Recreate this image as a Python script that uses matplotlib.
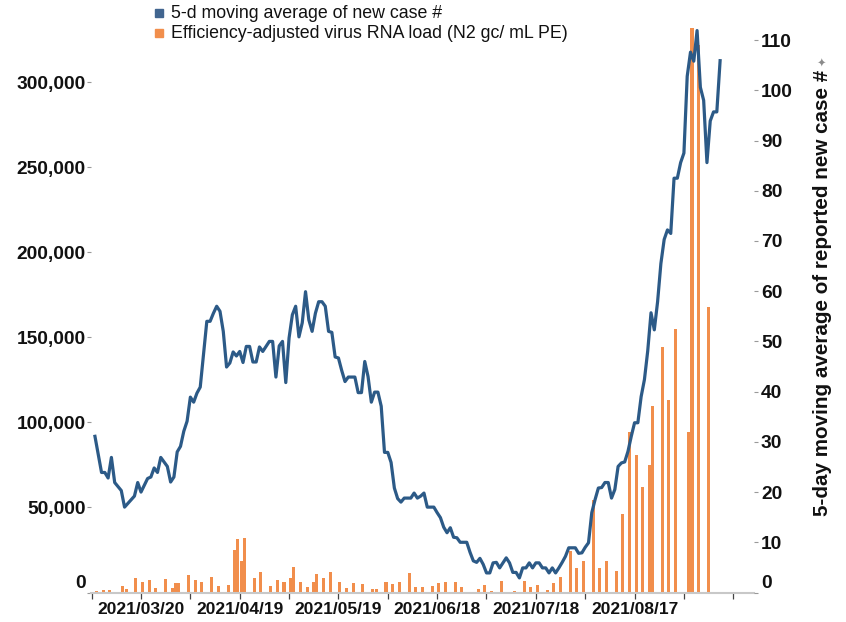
import matplotlib
matplotlib.use("Agg")
import matplotlib.pyplot as plt
import matplotlib.transforms as mtransforms
from matplotlib.patches import Rectangle
from matplotlib.ticker import FixedLocator, FuncFormatter
import pandas as pd

plt.rcParams['font.family'] = ['Liberation Sans', 'DejaVu Sans']

# ---------------- data ----------------
ref_date = '2021-03-20'

# 5-day moving average of reported new cases (day offsets from ref_date)
case_days = [-14, -12, -11, -10, -9, -8, -6, -5, -2, -1, 0, 2, 3, 4, 5, 6, 8, 9, 10, 11,
             12, 13, 14, 15, 16, 17, 18, 20, 21, 22, 23, 24, 25] + list(range(26, 177))
case_avg = [31.1, 23.9, 23.9, 22.8, 26.9, 21.9, 20.3, 17.0, 19.2, 21.9, 20.0, 22.7, 23.0, 24.8,
            23.9, 26.9, 25.1, 22.0, 23.0, 28.0, 29.1, 32.1, 34.1, 38.9, 37.9, 39.7, 40.9, 54.0,
            54.0, 55.6, 57.0, 56.0, 52.0,
            44.9, 45.7, 47.9, 47.1, 48.0, 45.8, 49.0, 49.0, 45.9, 45.9, 48.9, 48.0, 49.0, 50.0,
            50.0, 42.9, 49.1, 50.0, 41.8, 50.7, 55.3, 57.0, 50.9, 53.7, 59.9, 54.3, 52.0, 55.6,
            57.9, 57.9, 57.0, 52.0, 51.8, 46.9, 46.7, 44.2, 42.0, 42.9, 42.9, 42.9, 39.8, 39.8,
            46.0, 43.0, 37.9, 39.9, 39.9, 37.1, 27.9, 27.9, 25.9, 20.8, 18.7, 18.0, 18.8, 18.8,
            18.8, 19.8, 18.8, 19.2, 19.8, 17.0, 17.0, 17.0, 15.9, 14.9, 13.0, 11.9, 12.9, 11.0,
            10.9, 10.0, 10.0, 10.0, 8.0, 6.3, 6.0, 6.8, 5.6, 3.9, 3.9, 5.9, 6.0, 4.9, 5.9, 6.9,
            5.9, 4.0, 4.0, 2.9, 4.9, 4.9, 5.9, 4.9, 5.9, 5.9, 4.9, 4.9, 3.9, 4.9, 3.9, 4.9, 6.0,
            7.2, 8.9, 8.9, 8.9, 7.8, 7.9, 9.0, 9.9, 15.9, 18.5, 20.8, 20.9, 21.9, 21.9, 18.8,
            20.5, 25.1, 25.8, 26.0, 28.1, 31.1, 33.8, 33.8, 39.0, 42.4, 48.1, 55.7, 52.3, 57.9,
            65.5, 70.3, 72.2, 71.5, 82.5, 82.5, 85.6, 87.5, 102.8, 107.6, 105.8, 111.9, 100.6,
            98.0, 85.6, 93.9, 95.7, 95.7, 105.9]

# Efficiency-adjusted virus RNA load (N2 gc/ mL PE)
rna_days = [-14, -12, -10, -6, -5, -2, 0, 2, 4, 7, 9, 10, 11, 14, 16, 18, 21, 23, 26, 28,
            29, 30, 31, 34, 36, 39, 41, 43, 45, 46, 48, 50, 52, 53, 55, 57, 60, 62, 64, 67,
            70, 71, 74, 76, 78, 81, 83, 85, 88, 90, 92, 95, 97, 99, 102, 104, 106, 109, 111, 113,
            116, 118, 120, 123, 125, 127, 130, 132, 134, 137, 139, 141, 144, 146, 148, 150, 152, 154, 155, 158,
            160, 162, 166, 167, 169, 172]
rna_load = [600, 1600, 1600, 4100, 1800, 8400, 5900, 7500, 2400, 8000,
            2400, 5300, 5300, 10200, 7100, 5900, 9200, 4100, 4700, 24700,
            31400, 18400, 31800, 8400, 11800, 4100, 7100, 6300, 8400, 14900,
            6300, 3100, 6300, 10600, 8400, 11800, 5900, 2800, 5500, 5100,
            2200, 1800, 5900, 5100, 6300, 11300, 3500, 3100, 3900, 5700,
            6300, 6300, 3100, 400, 1800, 4500, 600, 6500, 200, 1000,
            6900, 3500, 4500, 1600, 5300, 9000, 24200, 14600, 18400, 54100,
            14300, 18800, 12700, 45900, 94300, 80600, 61900, 74700, 109400, 144300,
            113300, 154700, 94300, 332000, 322000, 168000]

x_tick_labels = ['2021/03/20', '2021/04/19', '2021/05/19', '2021/06/18', '2021/07/18', '2021/08/17']
left_ticks = [0, 50000, 100000, 150000, 200000, 250000, 300000]
right_ticks = [0, 10, 20, 30, 40, 50, 60, 70, 80, 90, 100, 110]

legend_labels = ['5-d moving average of new case #',
                 'Efficiency-adjusted virus RNA load (N2 gc/ mL PE)']
right_label = '5-day moving average of reported new case #'

# ---------------- styling ----------------
LINE_C = '#2C5A87'
BAR_C = '#F18E4C'
LEG_BLUE = '#41658F'
TXT = '#111111'

W, H = 846, 622
fig = plt.figure(figsize=(W / 100, H / 100), dpi=100)
L, R, B, T = 91, 754, 592.5, 20
ax = fig.add_axes([L / W, 1 - B / H, (R - L) / W, (B - T) / H])
ax2 = ax.twinx()

ref = pd.Timestamp(ref_date)
bar_x = [ref + pd.Timedelta(days=d) for d in rna_days]
line_x = [ref + pd.Timedelta(days=d) for d in case_days]

ax.bar(bar_x, rna_load, width=0.92, align='edge', color=BAR_C, linewidth=0, zorder=2)
ax2.plot(line_x, case_avg, color=LINE_C, lw=2.3, solid_joinstyle='round', zorder=3)

ax.set_xlim(ref - pd.Timedelta(days=15.2), ref + pd.Timedelta(days=186.3))
ax.set_ylim(0, 336500)
ax2.set_ylim(0, 114.0)

# x ticks: labelled every 30 days, unlabelled ticks in between (every 15 days)
lab_dates = [pd.Timestamp(s.replace('/', '-')) for s in x_tick_labels]
ax.set_xticks(lab_dates)
ax.set_xticklabels(x_tick_labels)
minor = [lab_dates[0] + pd.Timedelta(days=15 * k) for k in range(-1, 13)]
minor = [m for m in minor if m not in lab_dates]
ax.set_xticks(minor, minor=True)
for which in ('major', 'minor'):
    ax.tick_params(axis='x', which=which, length=4, width=0.9, color='#444444',
                   direction='out', pad=3)
for lab in ax.get_xticklabels():
    lab.set_fontsize(12.5)
    lab.set_fontweight('bold')
    lab.set_color(TXT)

ax.yaxis.set_major_locator(FixedLocator(left_ticks))
ax.yaxis.set_major_formatter(FuncFormatter(lambda v, p: f'{v:,.0f}'))
ax.tick_params(axis='y', length=3, width=0.8, color='#999999', pad=1,
               labelsize=13.8, labelcolor=TXT)
for lab in ax.get_yticklabels():
    lab.set_fontweight('bold')

ax2.yaxis.set_major_locator(FixedLocator(right_ticks))
ax2.tick_params(axis='y', length=3, width=0.8, color='#999999', pad=2,
                labelsize=13.8, labelcolor=TXT)
for lab in ax2.get_yticklabels():
    lab.set_fontweight('bold')

# raise the "0" labels above the baseline as in the reference
shift = mtransforms.ScaledTranslation(0, 8 / 72, fig.dpi_scale_trans)
for a in (ax, ax2):
    t0 = a.yaxis.get_major_ticks()[0]
    t0.label1.set_transform(t0.label1.get_transform() + shift)
    t0.label2.set_transform(t0.label2.get_transform() + shift)

for a in (ax, ax2):
    for s in ('top', 'left', 'right'):
        a.spines[s].set_visible(False)
ax2.spines['bottom'].set_visible(False)
ax.spines['bottom'].set_color('#c8c8c8')
ax.spines['bottom'].set_linewidth(1.5)

ax2.set_ylabel(right_label, fontsize=14.9, fontweight='bold', color=TXT)
ax2.yaxis.set_label_coords((822 - L) / (R - L), (B - 293) / (B - T))
ax2.yaxis.label.set_verticalalignment('center')
ax2.yaxis.label.set_horizontalalignment('center')

fig.text(823 / W, 1 - 61 / H, '\u2726', fontsize=8, color='#8a8a8a', rotation=90,
         ha='center', va='center')

# legend
for i, (lab, col) in enumerate(zip(legend_labels, [LEG_BLUE, BAR_C])):
    yc = 13 + 20 * i
    fig.patches.append(Rectangle((155 / W, 1 - (yc + 4) / H), 8 / W, 8 / H,
                                 transform=fig.transFigure, color=col))
    fig.text(171 / W, 1 - yc / H, lab, fontsize=12.8, color=TXT, ha='left', va='center')

fig.savefig('out.png', dpi=100)
